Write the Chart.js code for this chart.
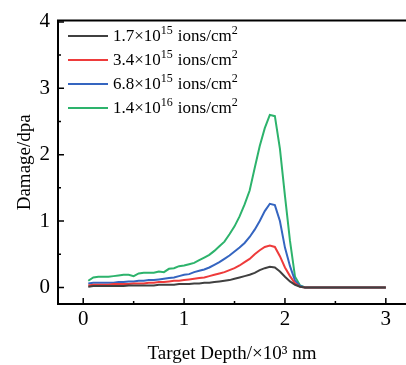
<!DOCTYPE html>
<html>
<head>
<meta charset="utf-8">
<script src="https://cdn.jsdelivr.net/npm/chart.js@4"></script>
<style>
  html, body { margin: 0; padding: 0; background: #fff; }
  #wrap { width: 406px; height: 365px; }
</style>
</head>
<body>
<div id="wrap"><canvas id="c" width="406" height="365"></canvas></div>
<script>
// 深さ (×10^3 nm)
const depth = [0.05,0.10,0.15,0.20,0.25,0.30,0.35,0.40,0.45,0.50,
               0.55,0.60,0.65,0.70,0.75,0.80,0.85,0.90,0.95,1.00,
               1.05,1.10,1.15,1.20,1.25,1.30,1.35,1.40,1.45,1.50,
               1.55,1.60,1.65,1.70,1.75,1.80,1.85,1.90,1.95,2.00,
               2.05,2.10,2.15,2.20,3.00]

const dose17 = [0.01,0.02,0.02,0.02,0.02,0.02,0.02,0.02,0.03,0.03,
                0.03,0.03,0.03,0.03,0.04,0.04,0.04,0.04,0.05,0.05,
                0.05,0.06,0.06,0.07,0.07,0.08,0.09,0.10,0.11,0.13,
                0.15,0.17,0.19,0.22,0.26,0.29,0.31,0.30,0.24,0.16,
                0.09,0.04,0.01,0.00,0.00]

const dose34 = [0.03,0.04,0.04,0.04,0.04,0.05,0.05,0.05,0.05,0.06,
                0.06,0.06,0.07,0.07,0.08,0.08,0.09,0.10,0.10,0.11,
                0.12,0.13,0.14,0.15,0.17,0.19,0.21,0.23,0.26,0.29,
                0.33,0.38,0.43,0.50,0.56,0.61,0.63,0.61,0.47,0.30,
                0.17,0.06,0.01,0.00,0.00]

const dose68 = [0.06,0.07,0.07,0.07,0.07,0.07,0.08,0.08,0.09,0.09,
                0.10,0.10,0.11,0.11,0.12,0.13,0.14,0.15,0.17,0.19,
                0.20,0.23,0.25,0.27,0.30,0.34,0.38,0.43,0.48,0.54,
                0.60,0.67,0.76,0.87,1.00,1.15,1.26,1.24,1.00,0.60,
                0.32,0.10,0.02,0.00,0.00]

const dose140 = [0.10,0.15,0.16,0.16,0.16,0.17,0.18,0.19,0.19,0.17,
                 0.21,0.22,0.22,0.22,0.24,0.23,0.28,0.29,0.32,0.33,
                 0.35,0.37,0.41,0.45,0.49,0.55,0.62,0.69,0.80,0.92,
                 1.07,1.25,1.46,1.80,2.13,2.40,2.60,2.58,2.09,1.38,
                 0.70,0.16,0.03,0.00,0.00]

const legendMain = ["1.7×10", "3.4×10", "6.8×10", "1.4×10"]
const legendExp = ["15", "15", "15", "16"]
const colors = ['#404040', '#ee3b3b', '#3565c0', '#2db36c']

const xTicks = [0, 1, 2, 3]
const yTicks = [0, 1, 2, 3, 4]

const serif = "'Liberation Serif', 'Times New Roman', serif"

function pts(ys){
    return depth.map((x, i) => ({x: x, y: ys[i]}))
}

const series = [dose17, dose34, dose68, dose140]

// 枠と内向きの目盛り、凡例
const framePlugin = {
    id: 'frame',
    afterDraw(chart){
        const ctx = chart.ctx
        const a = chart.chartArea
        const xs = chart.scales.x
        const ys = chart.scales.y
        ctx.save()
        ctx.strokeStyle = '#000'
        ctx.lineWidth = 2
        ctx.beginPath()
        ctx.moveTo(a.left, a.top); ctx.lineTo(406, a.top)
        ctx.moveTo(a.left, a.bottom); ctx.lineTo(406, a.bottom)
        ctx.moveTo(a.left, a.top - 1); ctx.lineTo(a.left, a.bottom + 1)
        ctx.stroke()

        ctx.lineWidth = 1.5
        ctx.beginPath()
        for(let v = 0; v <= 3; v += 0.5){
            const px = xs.getPixelForValue(v)
            const len = Number.isInteger(v) ? 6 : 3
            ctx.moveTo(px, a.bottom); ctx.lineTo(px, a.bottom - len)
        }
        for(let v = 0; v <= 4; v += 0.5){
            const py = ys.getPixelForValue(v)
            const len = Number.isInteger(v) ? 6 : 3
            ctx.moveTo(a.left, py); ctx.lineTo(a.left + len, py)
        }
        ctx.stroke()

        // 凡例
        for(let i = 0; i < 4; i++){
            const y = 36 + i * 24
            ctx.strokeStyle = colors[i]
            ctx.lineWidth = 2
            ctx.beginPath()
            ctx.moveTo(68, y); ctx.lineTo(108, y)
            ctx.stroke()

            ctx.fillStyle = '#000'
            ctx.textBaseline = 'alphabetic'
            ctx.textAlign = 'left'
            let tx = 113
            const base = y + 5
            ctx.font = `17px ${serif}`
            ctx.fillText(legendMain[i], tx, base)
            tx += ctx.measureText(legendMain[i]).width
            ctx.font = `12px ${serif}`
            ctx.fillText(legendExp[i], tx, base - 7)
            tx += ctx.measureText(legendExp[i]).width + 5
            ctx.font = `17px ${serif}`
            ctx.fillText('ions/cm', tx, base)
            tx += ctx.measureText('ions/cm').width
            ctx.font = `12px ${serif}`
            ctx.fillText('2', tx, base - 7)
        }
        ctx.restore()
    }
}

new Chart(document.getElementById('c'), {
    type: 'line',
    data: {
        datasets: series.map((s, i) => ({
            label: legendMain[i] + legendExp[i],
            data: pts(s),
            borderColor: colors[i],
            borderWidth: 2,
            pointRadius: 0,
            tension: 0,
            fill: false
        }))
    },
    options: {
        responsive: false,
        animation: false,
        layout: { padding: { top: 17, right: 0, left: 0, bottom: 0 } },
        plugins: { legend: { display: false }, tooltip: { enabled: false } },
        scales: {
            x: {
                type: 'linear',
                min: -0.25,
                max: 3.2,
                afterBuildTicks: s => { s.ticks = xTicks.map(v => ({value: v})) },
                afterFit: s => { s.height = 61 },
                grid: { display: false, drawTicks: false },
                border: { display: false },
                ticks: {
                    padding: 3,
                    color: '#000',
                    font: { family: serif, size: 21 },
                    callback: v => String(v)
                },
                title: {
                    display: true,
                    text: 'Target Depth/×10³ nm',
                    color: '#000',
                    font: { family: serif, size: 19 },
                    padding: { top: 0, bottom: 0 }
                }
            },
            y: {
                min: -0.25,
                max: 4.02,
                afterBuildTicks: s => { s.ticks = yTicks.map(v => ({value: v})) },
                afterFit: s => { s.width = 58 },
                grid: { display: false, drawTicks: false },
                border: { display: false },
                ticks: {
                    padding: 8,
                    color: '#000',
                    font: { family: serif, size: 21 },
                    callback: v => String(v)
                },
                title: {
                    display: true,
                    text: 'Damage/dpa',
                    color: '#000',
                    font: { family: serif, size: 19 },
                    padding: { top: 14, bottom: 0 }
                }
            }
        }
    },
    plugins: [framePlugin]
})
</script>
</body>
</html>
